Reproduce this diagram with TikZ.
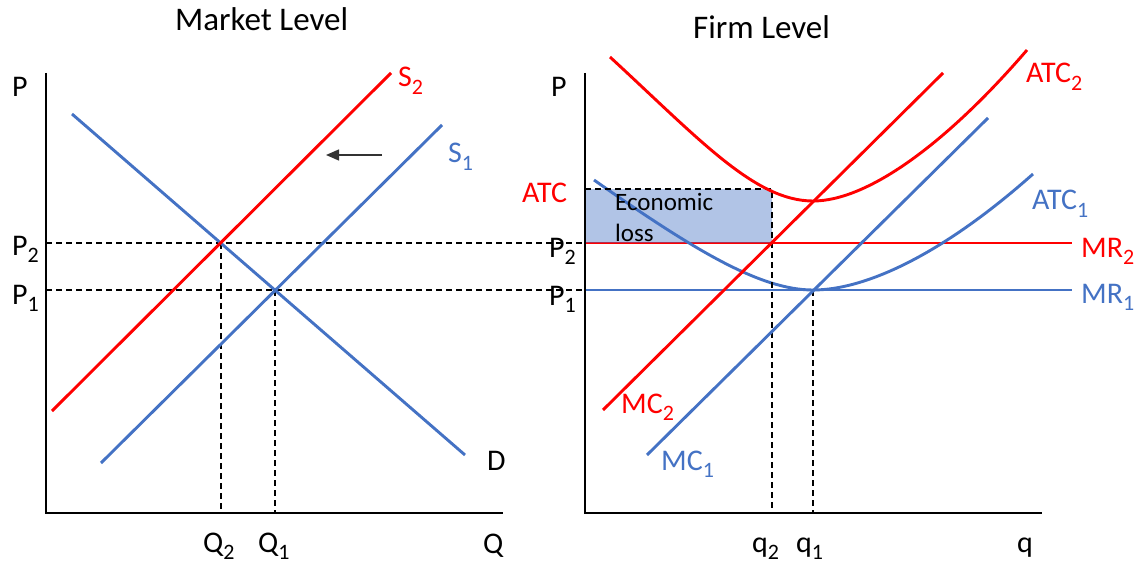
\documentclass[tikz,border=0pt]{standalone}
\usepackage{fontspec}
\setmainfont{Carlito}
\usetikzlibrary{arrows.meta}
\definecolor{cred}{RGB}{255,0,0}
\definecolor{cblue}{RGB}{68,114,196}
\newcommand\sbs[1]{\raisebox{-7.5pt}{\fontsize{22}{23}\selectfont #1}}
\begin{document}
\begin{tikzpicture}[x=1pt,y=-1pt,
  axis/.style={line width=2.6pt,black},
  curve/.style={line width=2.9pt},
  guide/.style={line width=1.5pt,black,dash pattern=on 6pt off 4pt},
  lbl/.style={anchor=base west,inner sep=0pt,font=\fontsize{30}{33}\selectfont},
  ttl/.style={anchor=base west,inner sep=0pt,font=\fontsize{33}{36}\selectfont},
  econ/.style={anchor=base west,inner sep=0pt,font=\fontsize{25}{28}\selectfont},
  redc/.style={curve,cred},
  bluec/.style={curve,cblue}]
\useasboundingbox (0,0) rectangle (1144,567);
% ---------- coordinates: market ----------
\coordinate (LO) at (46,513);
\coordinate (LT) at (46,73);
\coordinate (LR) at (503,513);
\coordinate (Da) at (72,114);
\coordinate (Db) at (465,455);
\coordinate (S1a) at (101,463);
\coordinate (S1b) at (442,125);
\coordinate (S2a) at (52,411);
\coordinate (S2b) at (391,73);
\coordinate (E2) at (221,243);
\coordinate (E1) at (275,290);
\coordinate (LP2) at (46,243);
\coordinate (LP1) at (46,290);
\coordinate (Q2b) at (221,513);
\coordinate (Q1b) at (275,513);
\coordinate (ArA) at (382,155);
\coordinate (ArB) at (326,155);
% ---------- coordinates: firm ----------
\coordinate (RO) at (585,513);
\coordinate (RT) at (585,73);
\coordinate (RR) at (1042,513);
\coordinate (RP2) at (585,243);
\coordinate (RP1) at (585,290);
\coordinate (MR2e) at (1072,243);
\coordinate (MR1e) at (1072,290);
\coordinate (RATC) at (585,189);
\coordinate (Kq2t) at (772,189);
\coordinate (Kq2m) at (772,243);
\coordinate (Kq2b) at (772,513);
\coordinate (Kq1t) at (813,290);
\coordinate (Kq1b) at (813,513);
\coordinate (MC2a) at (603,410);
\coordinate (MC2b) at (943,73);
\coordinate (MC1a) at (647,455);
\coordinate (MC1b) at (988,118);
\coordinate (A2a) at (610,57);
\coordinate (A2m) at (813,201);
\coordinate (A2b) at (1027,50);
\coordinate (A1a) at (594,180);
\coordinate (A1m) at (813,290);
\coordinate (A1b) at (1033,174);
% ---------- market level ----------
\draw[guide] (LP2) -- (RP2);
\draw[guide] (LP1) -- (RP1);
\draw[guide] (E2) -- (Q2b);
\draw[guide] (E1) -- (Q1b);
\draw[bluec] (Da) -- (Db);
\draw[bluec] (S1a) -- (S1b);
\draw[redc] (S2a) -- (S2b);
\draw[line width=1.3pt,black!80,-{Triangle[length=13pt,width=11pt]}] (ArA) -- (ArB);
\draw[axis] (LT) -- (LO) -- (LR);
% ---------- firm level ----------
\draw[redc] (RP2) -- (MR2e);
\draw[bluec] (RP1) -- (MR1e);
\draw[bluec] (A1a) .. controls (694,250) and (760,290) .. (A1m)
  .. controls (866,290) and (943,254) .. (A1b);
\fill[cblue,fill opacity=0.42] (RATC) rectangle (Kq2m);
\draw[guide] (RATC) -- (Kq2t) -- (Kq2b);
\draw[guide] (Kq1t) -- (Kq1b);
\draw[redc] (A2a) .. controls (700,140) and (755,201) .. (A2m)
  .. controls (868,201) and (947,143) .. (A2b);
\draw[redc] (MC2a) -- (MC2b);
\draw[bluec] (MC1a) -- (MC1b);
\draw[axis] (RT) -- (RO) -- (RR);
% ---------- labels ----------
\node[ttl] (tm) at (175,31) {Market Level};
\node[ttl] (tf) at (693,39) {Firm Level};
\node[lbl] (lP) at (12,97) {P};
\node[lbl] (lP2) at (12,255) {P\sbs{2}};
\node[lbl] (lP1) at (12,304) {P\sbs{1}};
\node[lbl] (lQ2) at (203,552) {Q\sbs{2}};
\node[lbl] (lQ1) at (258,552) {Q\sbs{1}};
\node[lbl] (lQ) at (483,553) {Q};
\node[lbl] (lD) at (487,470) {D};
\node[lbl,text=cred] (lS2) at (398,87) {S\sbs{2}};
\node[lbl,text=cblue] (lS1) at (448,163) {S\sbs{1}};
\node[lbl] (rP) at (551,97) {P};
\node[lbl] (rP2) at (549,257) {P\sbs{2}};
\node[lbl] (rP1) at (549,305) {P\sbs{1}};
\node[lbl,text=cred] (rATC) at (522,203) {ATC};
\node[econ] (ec1) at (615,211) {Economic};
\node[econ] (ec2) at (615,241) {loss};
\node[lbl,text=cred] (lATC2) at (1026,83) {ATC\sbs{2}};
\node[lbl,text=cblue] (lATC1) at (1032,210) {ATC\sbs{1}};
\node[lbl,text=cred] (lMR2) at (1081,257) {MR\sbs{2}};
\node[lbl,text=cblue] (lMR1) at (1081,303) {MR\sbs{1}};
\node[lbl,text=cred] (lMC2) at (621,413) {MC\sbs{2}};
\node[lbl,text=cblue] (lMC1) at (661,470) {MC\sbs{1}};
\node[lbl] (lq2) at (752,552) {q\sbs{2}};
\node[lbl] (lq1) at (796,552) {q\sbs{1}};
\node[lbl] (lq) at (1017,552) {q};
\end{tikzpicture}
\end{document}
